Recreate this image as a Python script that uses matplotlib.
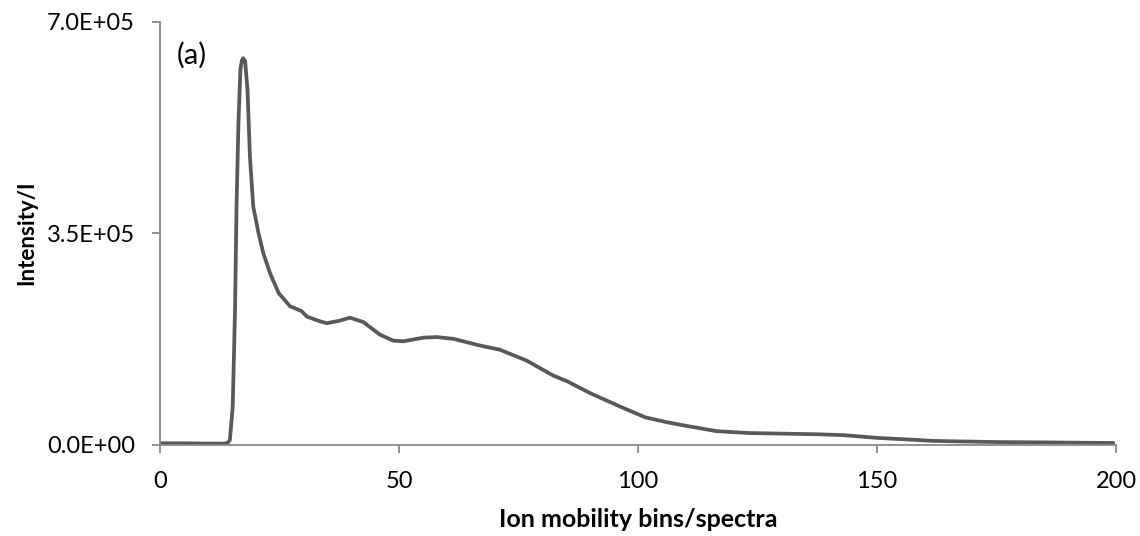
"""Ion mobility intensity profile, panel (a)."""

import matplotlib

matplotlib.use("Agg")
import matplotlib.pyplot as plt
from matplotlib.ticker import FuncFormatter

BINS = [
    0, 5, 10, 13, 14, 14.6, 15.2, 15.7, 16.0, 16.4, 16.8, 17.1, 17.4, 17.8,
    18.3, 18.8, 19.5, 20.6, 21.6, 23.0, 24.8, 27.2, 29.6, 30.7, 33.5, 34.9,
    37.5, 39.7, 42.5, 46.0, 48.8, 50.9, 55.1, 57.9, 61.4, 66.9, 71.1, 76.7,
    82.3, 85.1, 90.0, 96.2, 101.5, 106.0, 110.0, 116.5, 123.4, 130.0, 137.4,
    143.0, 150.0, 156.0, 161.8, 168.0, 175.7, 185.0, 192.0, 199.4,
]
INTENSITY = [
    2000, 2000, 1500, 1500, 2000, 7000, 62000, 229000, 395000, 532000,
    620000, 636000, 640000, 635000, 587000, 477000, 394000, 350000, 317000,
    284000, 251000, 229000, 221000, 212000, 204000, 201000, 205000, 210000,
    203000, 182000, 172000, 171000, 177000, 178000, 175000, 164000, 157000,
    139000, 114000, 105000, 85000, 63000, 45000, 37000, 31000, 22000, 19000,
    18000, 17000, 15500, 11000, 8500, 6000, 5000, 4000, 3500, 3000, 2500,
]
X_TICKS = [0, 50, 100, 150, 200]
Y_TICKS = [0, 3.5e5, 7.0e5]

AXIS_GREY = "#898989"
LINE_GREY = "#595959"


def main() -> None:
    plt.rcParams["font.family"] = ["Lato", "DejaVu Sans"]
    fig = plt.figure(figsize=(11.4, 5.36), dpi=100)
    ax = fig.add_axes([0.1404, 0.1707, 0.8386, 0.7883])

    ax.plot(BINS, INTENSITY, color=LINE_GREY, linewidth=2.7,
            solid_joinstyle="round", solid_capstyle="round")

    ax.set_xlim(0, 200)
    ax.set_ylim(0, 7.0e5)
    ax.set_xticks(X_TICKS)
    ax.set_yticks(Y_TICKS)
    ax.yaxis.set_major_formatter(FuncFormatter(lambda v, _: f"{v:.1E}"))

    for side in ("top", "right"):
        ax.spines[side].set_visible(False)
    for side in ("left", "bottom"):
        ax.spines[side].set_color(AXIS_GREY)
        ax.spines[side].set_linewidth(1.3)
    ax.tick_params(axis="both", colors=AXIS_GREY, length=6, width=1.3,
                   labelcolor="black", labelsize=17)
    ax.tick_params(axis="y", pad=12)
    ax.tick_params(axis="x", pad=13)

    ax.set_xlabel("Ion mobility bins/spectra", fontsize=18,
                  fontweight="bold", labelpad=11.5)
    ax.set_ylabel("Intensity/I", fontsize=16, fontweight="bold",
                  labelpad=7)
    ax.text(0.017, 0.922, "(a)", transform=ax.transAxes, fontsize=21,
            va="center", ha="left")

    fig.savefig("out.png", dpi=100)
    plt.close(fig)


if __name__ == "__main__":
    main()
